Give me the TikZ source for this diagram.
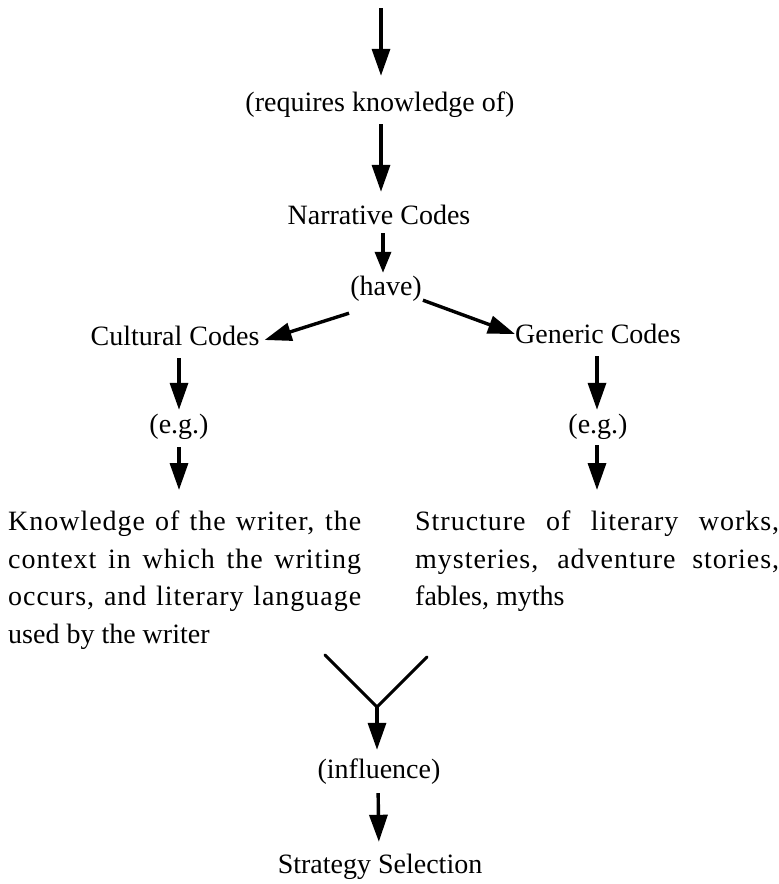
\documentclass[tikz,border=0pt]{standalone}
\usepackage{fontspec}
\setmainfont{Liberation Serif}
\usetikzlibrary{arrows.meta}
% a justified line of given width, slightly letterspaced
\newcommand\jline[2]{\makebox[#1][s]{\addfontfeature{LetterSpace=3.5}#2}}
\begin{document}
\begin{tikzpicture}[x=1pt,y=-1pt,
  lbl/.style={inner sep=0pt, text height=20pt, text depth=6pt, anchor=base,
    font=\fontsize{28}{37.5}\selectfont},
  para/.style={inner sep=0pt, anchor=north west, align=left,
    font=\fontsize{28}{37.5}\selectfont},
  flow/.style={line width=3.4pt, -{Triangle[length=27pt,width=18pt]}},
  shortflow/.style={line width=3.4pt, -{Triangle[length=21pt,width=16pt]}},
  arm/.style={line width=3pt, line cap=round}]
\useasboundingbox (0,0) rectangle (779,884);

% labels
\node[lbl] (req)   at (380,111) {(requires knowledge of)};
\node[lbl] (nar)   at (379,224) {Narrative Codes};
\node[lbl] (have)  at (386,295) {(have)};
\node[lbl] (cult)  at (175,345) {Cultural Codes};
\node[lbl] (gen)   at (598,343) {Generic Codes};
\node[lbl] (eg1)   at (179,433) {(e.g.)};
\node[lbl] (eg2)   at (598,433) {(e.g.)};
\node[para] (know) at (8,511) {%
  \jline{353pt}{Knowledge of the writer, the}\\
  \jline{353pt}{context in which the writing}\\
  \jline{353pt}{occurs, and literary language}\\
  used by the writer};
\node[para] (struct) at (415,511) {%
  \jline{364pt}{Structure of literary works,}\\
  \jline{364pt}{mysteries, adventure stories,}\\
  fables, myths};
\node[lbl] (infl)  at (379,778) {(influence)};
\node[lbl] (strat) at (380,873) {Strategy Selection};

% free ends
\coordinate (src)  at (381,8);
\coordinate (armL) at (325,655);
\coordinate (armR) at (427,657);
\coordinate (join) at (377,707);

% connectors
\draw[flow] (src) -- (src |- req.north) [shorten >=15pt];
\draw[flow, shorten <=7pt, shorten >=12pt] (req.south -| src) -- (nar.north -| src);
\draw[shortflow, shorten <=3pt, shorten >=2pt] ([xshift=-3pt]nar.south -| have.north) -- ([xshift=-3pt]have.north);
\draw[flow] ([shift={(-1,12)}]have.south west) -- ([shift={(5,2)}]cult.east);
\draw[flow] ([shift={(1,-1)}]have.south east) -- ([shift={(0,-2)}]gen.west);
\draw[flow, shorten <=7pt, shorten >=3pt] (cult.south -| eg1.north) -- (eg1.north);
\draw[flow, shorten <=7pt, shorten >=3pt] ([xshift=-1pt]gen.south) -- ([xshift=-1pt]eg2.north);
\draw[flow, shorten <=8pt, shorten >=21pt] (eg1.south) -- (eg1.south |- know.north);
\draw[flow, shorten <=6pt, shorten >=21pt] ([xshift=-1pt]eg2.south) -- ([xshift=-1pt]eg2.south |- struct.north);
\draw[arm] (armL) -- (join) -- (armR);
\draw[flow, shorten >=8pt] (join) -- (join |- infl.north);
\draw[flow, shorten <=9pt, shorten >=11pt] ([xshift=-1pt]infl.south) -- ([xshift=-1pt]strat.north);
\end{tikzpicture}
\end{document}
